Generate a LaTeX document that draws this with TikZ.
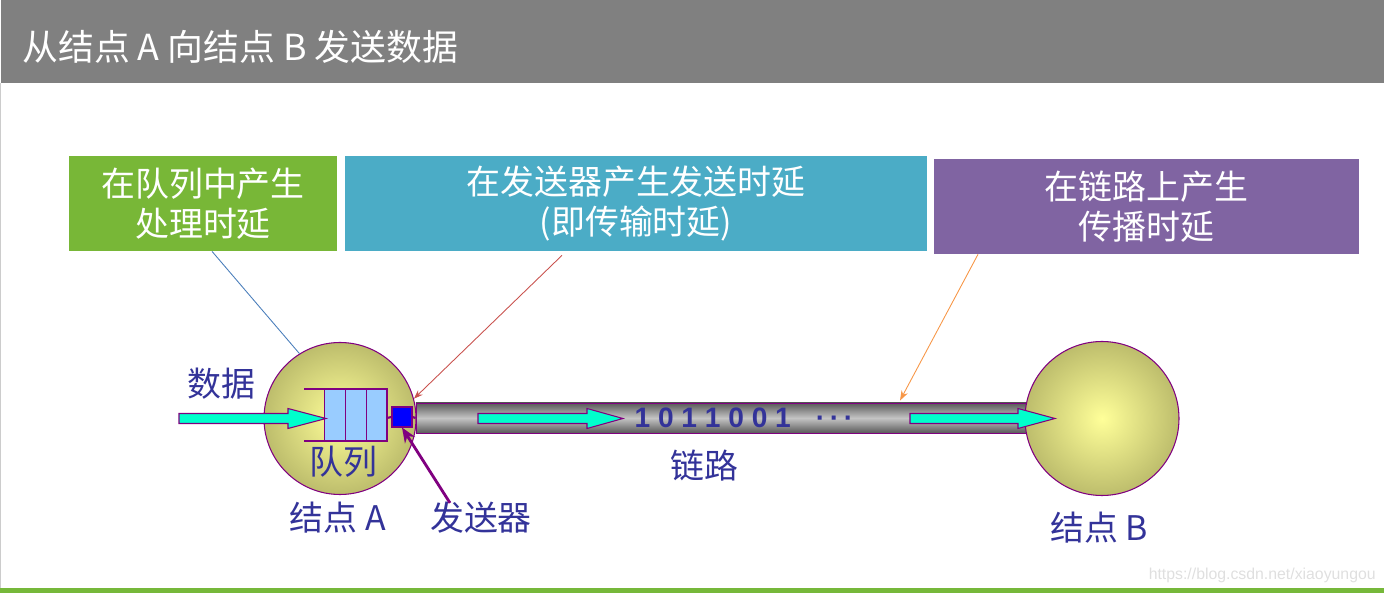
\documentclass[tikz,border=0pt]{standalone}
\usepackage{fontspec}
\newfontfamily\cjk{Noto Sans CJK SC}
\newfontfamily\arialfont{Liberation Sans}
\definecolor{slgray}{HTML}{808080}
\definecolor{slgreen}{HTML}{78B737}
\definecolor{slblue}{HTML}{4BACC6}
\definecolor{slpurple}{HTML}{8064A2}
\definecolor{lblue}{HTML}{333399}
\definecolor{edgepurple}{HTML}{800080}
\definecolor{ballin}{HTML}{FFFF99}
\definecolor{ballout}{HTML}{BDBD6C}
\definecolor{pipedark}{HTML}{5A5A5A}
\definecolor{pipelight}{HTML}{C4C4C4}
\definecolor{cellblue}{HTML}{99CCFF}
\definecolor{fatcyan}{HTML}{00FFCC}
\definecolor{leadblue}{HTML}{4A7EBB}
\definecolor{leadred}{HTML}{C9524E}
\definecolor{leadorange}{HTML}{F79646}
\definecolor{footgreen}{HTML}{76B83A}
\usetikzlibrary{arrows.meta,positioning,calc}

\begin{document}
\begin{tikzpicture}[x=0.2mm, y=-0.2mm,
  every node/.style={font=\cjk\fontsize{19.3}{22.7}\selectfont, align=center, inner sep=0pt},
  delaybox/.style={text=white, minimum height=1.9cm},
  ball/.style={circle, draw=edgepurple, line width=0.6pt, shading=radial,
               inner color=ballin, outer color=ballout},
  lbl/.style={text=lblue},
  fatarrow/.style={fill=fatcyan, draw=edgepurple, line width=0.6pt},
  qcell/.style={fill=cellblue, draw=edgepurple, line width=0.5pt},
  qline/.style={draw=edgepurple, line width=1.7pt},
]
\useasboundingbox (0,0) rectangle (1384,593);

% === Slide frame ===
\fill[slgray] (1.5,0) rectangle (1384,83);
\node[anchor=west, text=white, font=\cjk\fontsize{20.4}{22}\selectfont] (title) at (22,47)
      {从结点 A 向结点 B 发送数据};
\draw[gray!40, line width=0.4pt] (0.5,83) -- (0.5,588);
\fill[footgreen] (0,588) rectangle (1384,593);
\node[anchor=east, text=gray!25, font=\arialfont\fontsize{9}{10}\selectfont] (mark) at (1376,575)
      {https://blog.csdn.net/xiaoyungou};

% === Delay boxes ===
\node[delaybox, fill=slgreen, minimum width=5.36cm] (qbox) at (203,203.5)
      {在队列中产生\\处理时延};
\node[delaybox, fill=slblue, minimum width=11.64cm] (sbox) at (636,203.5)
      {在发送器产生发送时延\\(即传输时延)};
\node[delaybox, fill=slpurple, minimum width=8.5cm] (pbox) at (1146.5,206.5)
      {在链路上产生\\传播时延};

% === Link and nodes ===
\node[draw=edgepurple, line width=0.5pt, top color=pipedark, bottom color=pipedark,
      middle color=pipelight, minimum width=12.5cm, minimum height=0.6cm] (link) at (728.5,418) {};
\node[ball, minimum size=3.04cm] (nodeA) at (340,418.5) {};
\node[ball, minimum size=3.08cm] (nodeB) at (1102,418.5) {};

% === Queue and sender in node A ===
\foreach \xc in {324,345,366}
  \draw[qcell] (\xc,389) rectangle ++(21,52);
\draw[qline] (304,389) -- (387,389) -- (387,441) -- (304,441);
\coordinate (qout) at (387,418);
\node[draw=edgepurple, line width=0.6pt, fill=blue, minimum size=0.4cm] (snd) at (402,417) {};
\draw[edgepurple, line width=1.2pt] (qout) -- (snd.west);
\draw[edgepurple, line width=1.2pt] (snd.east) -- (link.west);

% === Data arrows ===
\foreach \xa/\xh/\xt in {179/288/326, 478/587/623, 910/1018/1055}
  \draw[fatarrow] (\xa,413.5) -- (\xh,413.5) -- (\xh,408.5) -- (\xt,418.5)
        -- (\xh,428.5) -- (\xh,423.5) -- (\xa,423.5) -- cycle;

% === Labels ===
\node[lbl] (data) at (221,384) {数据};
\node[lbl] (queue) at (343,462) {队列};
\node[lbl] (nameA) at (338,518) {结点 A};
\node[lbl] (sndlbl) at (481,518) {发送器};
\node[lbl] (linklbl) at (704,466) {链路};
\node[lbl] (nameB) at (1099,528) {结点 B};
\node[lbl, font=\arialfont\bfseries\fontsize{16}{18}\selectfont] (bits) at (744,418)
      {1 0 1 1 0 0 1\hspace{0.5cm}·\,·\,·};

% === Leader lines ===
\draw[leadblue, line width=0.5pt] ([xshift=1.8mm]qbox.south) -- (nodeA.122);
\draw[leadred, line width=0.5pt, -{Stealth[length=1.8mm,width=1.3mm]}]
      ([xshift=-14.8mm,yshift=-0.8mm]sbox.south) -- (nodeA.15);
\draw[leadorange, line width=0.5pt, -{Stealth[length=2mm,width=1.4mm]}]
      ([xshift=-33.7mm]pbox.south) -- ([xshift=34.3mm,yshift=0.4mm]link.north);
\draw[edgepurple, line width=1.6pt, -{Stealth[length=3mm,width=2.4mm]}]
      ([xshift=-6.2mm,yshift=-0.2mm]sndlbl.north) -- (snd.south);

\end{tikzpicture}
\end{document}
